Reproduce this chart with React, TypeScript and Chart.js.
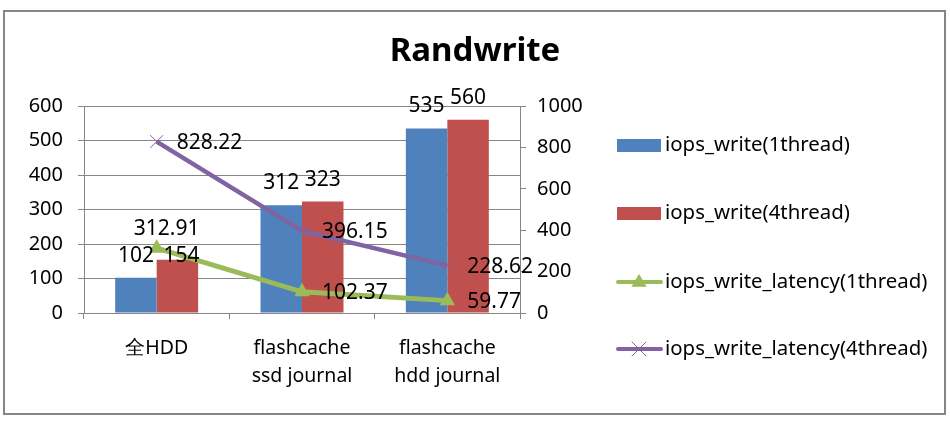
import React, { useEffect, useRef } from "react";
import { Chart, registerables } from "chart.js";

Chart.register(...registerables);

const categories = [["全HDD"], ["flashcache", "ssd journal"], ["flashcache", "hdd journal"]];
const iopsWrite1 = [102, 312, 535];
const iopsWrite4 = [154, 323, 560];
const latency1 = [312.91, 102.37, 59.77];
const latency4 = [828.22, 396.15, 228.62];
const seriesNames = [
  "iops_write(1thread)",
  "iops_write(4thread)",
  "iops_write_latency(1thread)",
  "iops_write_latency(4thread)",
];
const titleText = "Randwrite";

const FONT = "'Noto Sans', 'DejaVu Sans', sans-serif";
const BLUE = "#4F81BD";
const RED = "#C0504D";
const GREEN = "#9BBB59";
const PURPLE = "#8064A2";
const GRAY = "#868686";
const colors = [BLUE, RED, GREEN, PURPLE];

function drawTriangle(ctx: CanvasRenderingContext2D, x: number, y: number, r: number, color: string) {
  ctx.beginPath();
  ctx.moveTo(x, y - r);
  ctx.lineTo(x + r * 0.95, y + r * 0.6);
  ctx.lineTo(x - r * 0.95, y + r * 0.6);
  ctx.closePath();
  ctx.fillStyle = color;
  ctx.fill();
}

function drawX(ctx: CanvasRenderingContext2D, x: number, y: number, r: number, color: string) {
  ctx.beginPath();
  ctx.moveTo(x - r, y - r);
  ctx.lineTo(x + r, y + r);
  ctx.moveTo(x + r, y - r);
  ctx.lineTo(x - r, y + r);
  ctx.strokeStyle = color;
  ctx.lineWidth = 1;
  ctx.stroke();
}

const excelPlugin = {
  id: "excelLook",
  beforeDraw(chart: any) {
    const ctx = chart.ctx as CanvasRenderingContext2D;
    ctx.save();
    ctx.fillStyle = "#ffffff";
    ctx.fillRect(0, 0, chart.width, chart.height);
    ctx.strokeStyle = GRAY;
    ctx.lineWidth = 2;
    ctx.strokeRect(4, 11, 941, 403);
    ctx.restore();
  },
  afterDatasetsDraw(chart: any) {
    const ctx = chart.ctx as CanvasRenderingContext2D;
    ctx.save();
    ctx.font = `21px ${FONT}`;
    ctx.fillStyle = "#000";
    ctx.textBaseline = "middle";
    // bar labels: above bars
    [0, 1].forEach((di) => {
      const meta = chart.getDatasetMeta(di);
      const values = chart.data.datasets[di].data as number[];
      meta.data.forEach((el: any, i: number) => {
        let dy = -22;
        let dx = 0;
        if (di === 1 && i === 0) {
          dy = -4;
          dx = 4;
        }
        ctx.textAlign = "center";
        ctx.fillText(String(values[i]), el.x + dx, el.y + dy);
      });
    });
    // line labels: to the right of points
    [2, 3].forEach((di) => {
      const meta = chart.getDatasetMeta(di);
      const values = chart.data.datasets[di].data as number[];
      meta.data.forEach((el: any, i: number) => {
        const txt = values[i].toFixed(2);
        if (di === 2 && i === 0) {
          ctx.textAlign = "center";
          ctx.fillText(txt, el.x + 10, el.y - 19);
        } else {
          ctx.textAlign = "left";
          ctx.fillText(txt, el.x + 20, el.y + 1);
        }
      });
    });
    ctx.restore();
  },
  afterDraw(chart: any) {
    const ctx = chart.ctx as CanvasRenderingContext2D;
    ctx.save();
    // title
    ctx.font = `bold 33px ${FONT}`;
    ctx.fillStyle = "#000";
    ctx.textAlign = "center";
    ctx.textBaseline = "middle";
    ctx.fillText(titleText, 475, 52);
    // legend
    const lx = 617;
    const rows = [145.5, 213.5, 282, 349];
    ctx.font = `20.4px ${FONT}`;
    ctx.textAlign = "left";
    seriesNames.forEach((name, i) => {
      const y = rows[i];
      const c = colors[i];
      if (i < 2) {
        ctx.fillStyle = c;
        ctx.fillRect(lx, y - 6.5, 44, 13);
      } else {
        ctx.strokeStyle = c;
        ctx.lineWidth = 4;
        ctx.lineCap = "round";
        ctx.beginPath();
        ctx.moveTo(lx + 1, y);
        ctx.lineTo(lx + 44, y);
        ctx.stroke();
        if (i === 2) drawTriangle(ctx, lx + 22, y, 8, c);
        else drawX(ctx, lx + 22, y, 7, c);
      }
      ctx.fillStyle = "#000";
      ctx.fillText(name, lx + 48, y);
    });
    ctx.restore();
  },
};

export default function App() {
  const ref = useRef<HTMLCanvasElement | null>(null);
  useEffect(() => {
    if (!ref.current) return;
    const tickFont = { family: FONT, size: 20 };
    const chart = new Chart(ref.current, {
      type: "bar",
      data: {
        labels: categories as any,
        datasets: [
          {
            type: "bar",
            label: seriesNames[0],
            data: iopsWrite1,
            backgroundColor: BLUE,
            yAxisID: "y",
            order: 2,
            categoryPercentage: 0.571,
            barPercentage: 1,
          },
          {
            type: "bar",
            label: seriesNames[1],
            data: iopsWrite4,
            backgroundColor: RED,
            yAxisID: "y",
            order: 2,
            categoryPercentage: 0.571,
            barPercentage: 1,
          },
          {
            type: "line",
            label: seriesNames[2],
            data: latency1,
            borderColor: GREEN,
            backgroundColor: GREEN,
            borderWidth: 5,
            pointStyle: "triangle",
            pointRadius: 9,
            pointBorderWidth: 0,
            pointBackgroundColor: GREEN,
            tension: 0,
            yAxisID: "y1",
            order: 1,
          },
          {
            type: "line",
            label: seriesNames[3],
            data: latency4,
            borderColor: PURPLE,
            backgroundColor: PURPLE,
            borderWidth: 4.5,
            pointStyle: "crossRot",
            pointRadius: 9,
            pointBorderWidth: 1,
            pointBorderColor: PURPLE,
            tension: 0,
            yAxisID: "y1",
            order: 0,
          },
        ] as any,
      },
      options: {
        responsive: false,
        animation: false,
        devicePixelRatio: 1,
        layout: { padding: { left: 0, top: 106, right: 340, bottom: 0 } },
        plugins: {
          legend: { display: false },
          title: { display: false },
          tooltip: { enabled: false },
        },
        scales: {
          x: {
            offset: true,
            grid: {
              offset: true,
              drawOnChartArea: false,
              color: GRAY,
              tickLength: 6,
            },
            border: { color: GRAY, width: 1 },
            ticks: {
              color: "#000",
              font: { family: FONT, size: 19.5, lineHeight: 1.45 },
              padding: 15,
              maxRotation: 0,
              autoSkip: false,
            },
            afterFit: (s: any) => {
              s.height = 112;
            },
          },
          y: {
            position: "left",
            min: 0,
            max: 600,
            ticks: { stepSize: 100, color: "#000", font: tickFont, padding: 15 },
            grid: { color: GRAY, tickLength: 6 },
            border: { color: GRAY, width: 1 },
            afterFit: (s: any) => {
              s.width = 84;
            },
          },
          y1: {
            position: "right",
            min: 0,
            max: 1000,
            ticks: {
              stepSize: 200,
              color: "#000",
              font: tickFont,
              padding: 11,
              callback: (v: any) => String(v),
            },
            grid: { drawOnChartArea: false, color: GRAY, tickLength: 6 },
            border: { color: GRAY, width: 1 },
            afterFit: (s: any) => {
              s.width = 90;
            },
          },
        },
      } as any,
      plugins: [excelPlugin],
    });
    return () => chart.destroy();
  }, []);
  return (
    <div style={{ position: "absolute", left: 0, top: 0, width: 950, height: 425 }}>
      <canvas ref={ref} width={950} height={425} style={{ width: 950, height: 425, display: "block" }} />
    </div>
  );
}
